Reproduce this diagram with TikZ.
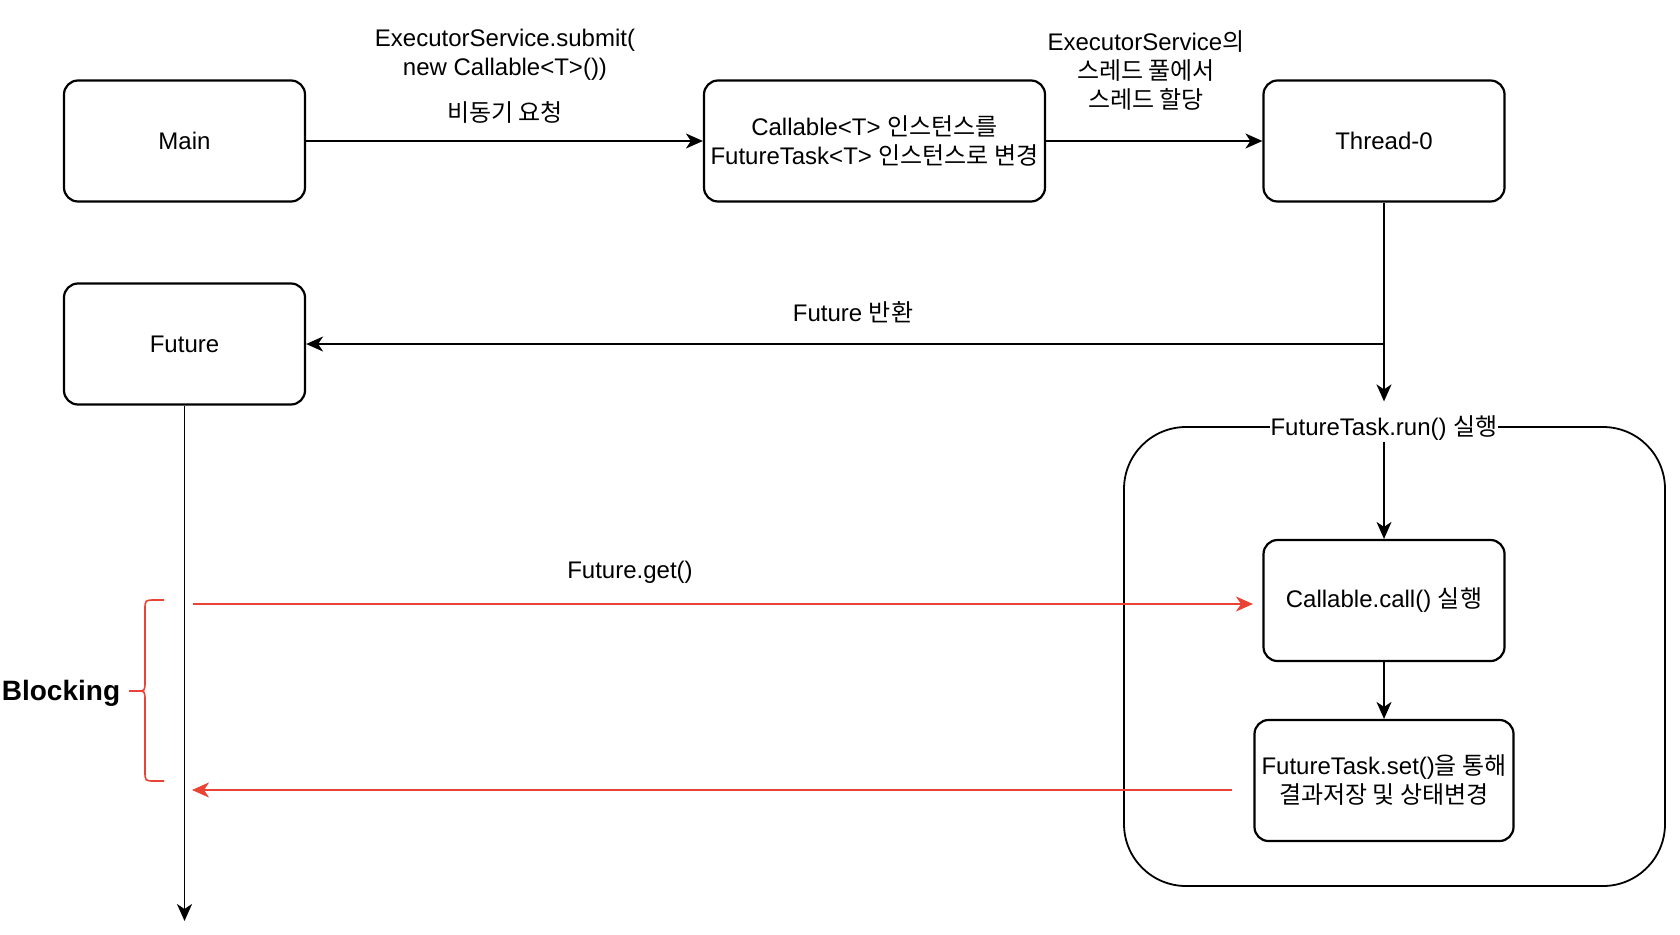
\documentclass[tikz,border=0pt]{standalone}
\usepackage{fontspec}
\setmainfont{Liberation Sans}
\newfontfamily\kr{Noto Sans CJK KR}
\usetikzlibrary{arrows.meta}
\definecolor{myred}{RGB}{234,67,53}
\tikzset{
  box/.style={draw, line width=2.2pt, rounded corners=14pt, minimum width=241pt, minimum height=121pt, align=center, inner sep=2pt},
  arr/.style={line width=1.8pt, -{Stealth[length=17pt,width=15pt,inset=5pt]}},
  redarr/.style={draw=myred, line width=1.8pt, -{Stealth[length=17pt,width=15pt,inset=5pt]}, color=myred},
  lbl/.style={align=center, inner sep=1pt}
}
\begin{document}
\begin{tikzpicture}[x=1pt,y=-1pt, every node/.style={font=\fontsize{24}{29}\selectfont}]
\useasboundingbox (0,0) rectangle (1680,934);
% top row
\node[box] (main) at (184.5,141) {Main};
\node[box, minimum width=341pt] (cb) at (874.5,141) {Callable<T> {\kr 인스턴스를}\\FutureTask<T> {\kr 인스턴스로 변경}};
\node[box] (th) at (1384,141) {Thread-0};
\node[box] (fut) at (184.5,344) {Future};
% container
\node[draw, line width=1.8pt, rounded corners=62pt, minimum width=541pt, minimum height=459pt] (cont) at (1394.5,656.5) {};
\node[fill=white, inner sep=1pt] (run) at (1384,428) {FutureTask.run() {\kr 실행}};
\node[box] (call) at (1384,600.5) {Callable.call() {\kr 실행}};
\node[box, minimum width=259pt] (set) at (1384,780.5) {FutureTask.set(){\kr 을 통해}\\{\kr 결과저장 및 상태변경}};
% labels
\node[lbl] (l1) at (505,55) {ExecutorService.submit(\\new Callable<T>())};
\node[lbl] (l2) at (505,112) {\kr 비동기 요청};
\node[lbl] (l3) at (1146,71) {ExecutorService{\kr 의}\\{\kr 스레드 풀에서}\\{\kr 스레드 할당}};
\node[lbl] (l4) at (853,312) {Future {\kr 반환}};
\node[lbl] (l5) at (630,572) {Future.get()};
\node[inner sep=0pt, font=\fontsize{28}{32}\selectfont\bfseries] (blk) at (61,693) {Blocking};
% connectors
\draw[arr] (main) -- (cb);
\draw[arr] (cb) -- (th);
\draw[arr, shorten >=13pt] (th.south) -- (run.north);
\draw[arr] (th.south |- fut.east) -- (fut.east);
\coordinate (lifeend) at (184.5,921);
\draw[arr] (fut.south) -- (lifeend);
\draw[arr, line width=1.2pt] (run.south) -- (call.north);
\draw[arr] (call) -- (set);
% red arrows
\coordinate (g1) at (193,604);
\coordinate (g2) at (1253,604);
\draw[redarr] (g1) -- (g2);
\coordinate (r1) at (1232,790);
\coordinate (r2) at (192,790);
\draw[redarr] (r1) -- (r2);
% brace
\draw[myred, line width=1.6pt] (164,600) -- (155,600) .. controls (145,600) .. (145,610) -- (145,681) .. controls (145,691) .. (137,691) -- (129,691);
\draw[myred, line width=1.6pt] (137,691) .. controls (145,691) .. (145,701) -- (145,771) .. controls (145,781) .. (155,781) -- (164,781);
\end{tikzpicture}
\end{document}
